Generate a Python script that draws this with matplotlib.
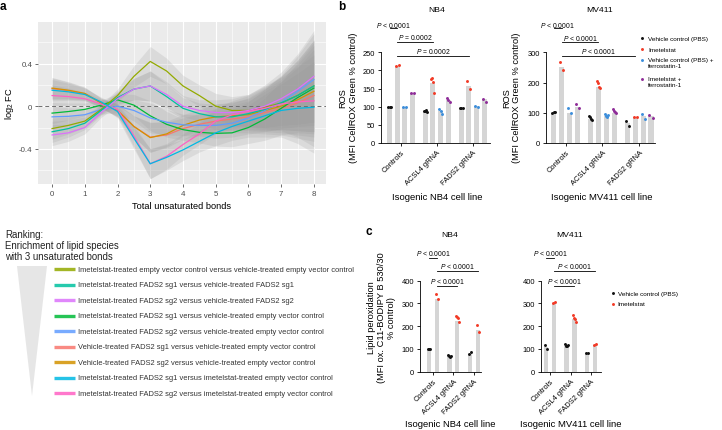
import numpy as np
import matplotlib
matplotlib.use('Agg')
import matplotlib.pyplot as plt
from matplotlib.patches import Polygon

plt.rcParams['font.family'] = ['Liberation Sans', 'DejaVu Sans']
plt.rcParams['mathtext.fontset'] = 'custom'
plt.rcParams['mathtext.it'] = 'Liberation Sans:italic'
plt.rcParams['mathtext.rm'] = 'Liberation Sans'

# ---------------- Panel a data ----------------
bonds = [0, 0.5, 1, 1.5, 2, 2.5, 3, 3.5, 4, 4.5, 5, 5.5, 6, 6.5, 7, 7.5, 8]
imet_ev_vs_veh_ev = [-0.21, -0.18, -0.14, -0.03, 0.10, 0.28, 0.42, 0.33, 0.19, 0.10, 0.0, -0.04, -0.04, -0.01, 0.03, 0.10, 0.19]
imet_sg1_vs_veh_sg1 = [-0.24, -0.21, -0.16, -0.04, 0.08, 0.16, 0.19, 0.09, -0.02, -0.07, -0.10, -0.10, -0.07, -0.03, 0.03, 0.10, 0.19]
imet_sg2_vs_veh_sg2 = [-0.27, -0.25, -0.20, -0.06, 0.07, 0.16, 0.19, 0.11, 0.0, -0.04, -0.06, -0.06, -0.04, 0.0, 0.07, 0.16, 0.28]
imet_sg1_vs_veh_ev = [-0.065, -0.05, -0.03, 0.01, 0.06, 0.01, -0.09, -0.17, -0.22, -0.245, -0.255, -0.25, -0.20, -0.12, -0.02, 0.08, 0.17]
imet_sg2_vs_veh_ev = [-0.10, -0.095, -0.08, -0.03, 0.0, -0.04, -0.11, -0.15, -0.175, -0.18, -0.18, -0.16, -0.11, -0.04, 0.04, 0.14, 0.25]
veh_sg1_vs_veh_ev = [0.165, 0.145, 0.115, 0.03, -0.04, -0.19, -0.29, -0.27, -0.21, -0.17, -0.14, -0.12, -0.10, -0.06, -0.02, 0.03, 0.10]
veh_sg2_vs_veh_ev = [0.17, 0.15, 0.12, 0.03, -0.04, -0.19, -0.295, -0.26, -0.18, -0.13, -0.10, -0.09, -0.08, -0.04, 0.0, 0.06, 0.14]
imet_sg1_vs_imet_ev = [0.15, 0.135, 0.11, 0.04, -0.05, -0.30, -0.54, -0.48, -0.41, -0.33, -0.25, -0.19, -0.14, -0.09, -0.04, -0.02, -0.01]
imet_sg2_vs_imet_ev = [0.10, 0.09, 0.07, 0.02, -0.03, -0.28, -0.54, -0.47, -0.36, -0.26, -0.14, -0.08, -0.05, -0.02, 0.02, 0.04, 0.05]
ci_halfwidth = [0.10, 0.08, 0.06, 0.045, 0.06, 0.10, 0.14, 0.12, 0.10, 0.10, 0.12, 0.13, 0.15, 0.20, 0.25, 0.33, 0.43]

comparison_labels = [
    'Imetelstat-treated empty vector control versus vehicle-treated empty vector control',
    'Imetelstat-treated FADS2 sg1 versus vehicle-treated FADS2 sg1',
    'Imetelstat-treated FADS2 sg2 versus vehicle-treated FADS2 sg2',
    'Imetelstat-treated FADS2 sg1 versus vehicle-treated empty vector control',
    'Imetelstat-treated FADS2 sg2 versus vehicle-treated empty vector control',
    'Vehicle-treated FADS2 sg1 versus vehicle-treated empty vector control',
    'Vehicle-treated FADS2 sg2 versus vehicle-treated empty vector control',
    'Imetelstat-treated FADS2 sg1 versus imetelstat-treated empty vector control',
    'Imetelstat-treated FADS2 sg2 versus imetelstat-treated empty vector control',
]
comparison_colors = ['#93AA00', '#00C19F', '#DB72FB', '#00BA38', '#619CFF',
                     '#F8766D', '#D39200', '#00B9E3', '#FF61C3']
comparison_series = [imet_ev_vs_veh_ev, imet_sg1_vs_veh_sg1, imet_sg2_vs_veh_sg2,
                     imet_sg1_vs_veh_ev, imet_sg2_vs_veh_ev, veh_sg1_vs_veh_ev,
                     veh_sg2_vs_veh_ev, imet_sg1_vs_imet_ev, imet_sg2_vs_imet_ev]
draw_order = [5, 6, 3, 4, 0, 1, 2, 8, 7]

# ---------------- Panel b data ----------------
groups = ['Controls', 'ACSL4 gRNA', 'FADS2 gRNA']
ros_treatments = ['Vehicle control (PBS)', 'Imetelstat',
                  'Vehicle control (PBS) +\nferrostatin-1', 'Imetelstat +\nferrostatin-1']
ros_colors = ['#111111', '#F23A26', '#3C8EDB', '#8E2C98']

nb4_ros_bars = [[100, 213, 100, 137], [88, 165, 88, 118], [97, 157, 102, 120]]
nb4_ros_dots = [
    [[100, 100, 100], [213, 216], [100, 100], [137, 137]],
    [[89, 87, 91, 86], [176, 178, 169, 138], [94, 89, 80], [124, 119, 112]],
    [[97, 97, 97], [170, 150], [103, 100], [121, 112]],
]
mv411_ros_bars = [[100, 250, 100, 118], [80, 185, 90, 100], [66, 85, 88, 88]]
mv411_ros_dots = [
    [[100, 102, 104], [267, 241], [116, 99], [129, 116]],
    [[90, 85, 80, 77], [206, 200, 186, 181], [96, 90, 85, 93], [112, 107, 101, 99]],
    [[74, 57], [85, 85], [96, 79], [93, 82]],
]

# ---------------- Panel c data ----------------
lipid_treatments = ['Vehicle control (PBS)', 'Imetelstat']
lipid_colors = ['#111111', '#F23A26']
nb4_lipid_bars = [[100, 320], [68, 225], [78, 185]]
nb4_lipid_dots = [
    [[100, 100, 100], [342, 320]],
    [[73, 68, 66, 70], [244, 240, 235, 217]],
    [[76, 88], [207, 173]],
]
mv411_lipid_bars = [[108, 300], [115, 232], [82, 118]]
mv411_lipid_dots = [
    [[117, 100], [300, 308]],
    [[122, 114, 111, 118], [249, 234, 231, 217]],
    [[82, 82], [117, 122]],
]

W, H = 722, 431
fig = plt.figure(figsize=(W / 100, H / 100), dpi=100)


def px_axes(x0, y0, x1, y1):
    return fig.add_axes([x0 / W, 1 - y1 / H, (x1 - x0) / W, (y1 - y0) / H])


# ================= Panel a =================
axa = px_axes(38, 23, 326, 185)
axa.set_facecolor('#EBEBEB')
axa.set_xlim(-0.43, 8.37)
axa.set_ylim(-0.73, 0.79)
for k in range(17):
    axa.axvline(k * 0.5, color='white', lw=0.8 if k % 2 == 0 else 0.4, zorder=0)
for k in range(-3, 4):
    axa.axhline(k * 0.2, color='white', lw=0.8 if k % 2 == 0 else 0.4, zorder=0)
bx = np.array(bonds)
hw = np.array(ci_halfwidth)
for s in comparison_series:
    y = np.array(s)
    axa.fill_between(bx, y - hw, y + hw, color='#999999', alpha=0.2, lw=0, zorder=1)
axa.axhline(0, color='#6E6E6E', lw=0.7, ls=(0, (4, 3)), zorder=2)
for i in draw_order:
    axa.plot(bx, comparison_series[i], color=comparison_colors[i], lw=0.9, zorder=3)
axa.set_xticks(range(0, 9))
axa.set_yticks([-0.4, 0, 0.4])
axa.set_yticklabels(['-0.4', '0', '0.4'])
axa.tick_params(length=2, width=0.5, color='#333333', labelsize=5.7, labelcolor='#4D4D4D', pad=2)
for sp in axa.spines.values():
    sp.set_visible(False)
axa.set_xlabel('Total unsaturated bonds', fontsize=6.7, labelpad=3)
axa.set_ylabel('log$_2$ FC', fontsize=6.7, labelpad=2)


# ================= bar panels =================
def bar_panel(rect, bars, dots, colors, offsets, width, xlim, ylim, yticks):
    ax = px_axes(*rect)
    for g in range(len(bars)):
        for t in range(len(bars[g])):
            x = g + offsets[t]
            ax.bar(x, bars[g][t], width, color='#D5D5D5', zorder=1)
            vals = dots[g][t]
            n = len(vals)
            dx = np.linspace(-width * 0.3, width * 0.3, n) if n > 1 else np.zeros(1)
            ax.scatter(x + dx, vals, s=4.5, color=colors[t], zorder=3, lw=0, clip_on=False)
    ax.set_xlim(*xlim)
    ax.set_ylim(*ylim)
    ax.set_yticks(yticks)
    ax.set_xticks(range(len(bars)))
    ax.set_xticklabels(groups, rotation=45, ha='right', rotation_mode='anchor')
    ax.tick_params(length=2, width=0.6, labelsize=5.4, pad=2.2)
    for sp in ['top', 'right']:
        ax.spines[sp].set_visible(False)
    for sp in ['left', 'bottom']:
        ax.spines[sp].set_linewidth(0.6)
    return ax


def bracket(ax, x0, x1, y, ty, text):
    ax.plot([x0, x1], [y, y], color='black', lw=0.6, clip_on=False)
    ax.text((x0 + x1) / 2, ty, text, ha='center', va='center', fontsize=4.9)


ros_off = [-0.32, -0.11, 0.11, 0.32]
ax_b1 = bar_panel((380.7, 53.3, 490, 144), nb4_ros_bars, nb4_ros_dots, ros_colors,
                  ros_off, 0.14, (-0.566, 2.48), (0, 250), [0, 50, 100, 150, 200, 250])
ax_b2 = bar_panel((546, 53.3, 655, 144), mv411_ros_bars, mv411_ros_dots, ros_colors,
                  ros_off, 0.14, (-0.535, 2.43), (0, 300), [0, 100, 200, 300])
bracket(ax_b1, -0.32, -0.11, 317, 328, r'$\it{P}$ < 0.0001')
bracket(ax_b1, -0.11, 0.89, 279, 293, r'$\it{P}$ = 0.0002')
bracket(ax_b1, -0.11, 1.89, 240, 256, r'$\it{P}$ = 0.0002')
bracket(ax_b2, -0.32, -0.11, 380, 393, r'$\it{P}$ < 0.0001')
bracket(ax_b2, -0.11, 0.89, 335, 350, r'$\it{P}$ < 0.0001')
bracket(ax_b2, -0.11, 1.89, 289, 306, r'$\it{P}$ < 0.0001')

lip_off = [-0.19, 0.19]
ax_c1 = bar_panel((420, 281.7, 480.7, 372.7), nb4_lipid_bars, nb4_lipid_dots, lipid_colors,
                  lip_off, 0.21, (-0.63, 2.33), (0, 400), [0, 100, 200, 300, 400])
ax_c2 = bar_panel((541, 281.7, 600.7, 372.7), mv411_lipid_bars, mv411_lipid_dots, lipid_colors,
                  lip_off, 0.21, (-0.44, 2.47), (0, 400), [0, 100, 200, 300, 400])
bracket(ax_c1, -0.19, 0.19, 498, 525, r'$\it{P}$ < 0.0001')
bracket(ax_c1, 0.19, 2.19, 444, 466, r'$\it{P}$ < 0.0001')
bracket(ax_c1, 0.19, 1.19, 378, 400, r'$\it{P}$ < 0.0001')
bracket(ax_c2, -0.19, 0.19, 498, 525, r'$\it{P}$ < 0.0001')
bracket(ax_c2, 0.19, 2.19, 444, 466, r'$\it{P}$ < 0.0001')
bracket(ax_c2, 0.19, 1.19, 378, 400, r'$\it{P}$ < 0.0001')

# ================= overlay (text, legends) =================
ov = fig.add_axes([0, 0, 1, 1])
ov.set_xlim(0, W)
ov.set_ylim(H, 0)
ov.axis('off')

for lab, x, y in [('a', 3, 7), ('b', 342, 7), ('c', 369, 232)]:
    ov.text(x, y, lab, fontsize=8.5, fontweight='bold', ha='center', va='center')

for t, x, y in [('NB4', 437, 10), ('MV411', 600, 10), ('NB4', 450, 236), ('MV411', 570, 236)]:
    ov.text(x, y, t, fontsize=6.1, ha='center', va='center')

ylab_ros = 'ROS\n(MFI CellROX Green % control)'
ov.text(348, 98, ylab_ros, rotation=90, fontsize=6.7, ha='center', va='center', linespacing=1.15)
ov.text(511.5, 98, ylab_ros, rotation=90, fontsize=6.7, ha='center', va='center', linespacing=1.15)
ov.text(381.7, 318, 'Lipid peroxidation\n(MFI ox. C11-BODIPY B 530/30\n% control)', rotation=90,
        fontsize=6.7, ha='center', va='center', linespacing=1.15)

for t, x, y in [('Isogenic NB4 cell line', 437, 198), ('Isogenic MV411 cell line', 602, 198),
                ('Isogenic NB4 cell line', 450, 425), ('Isogenic MV411 cell line', 571, 425)]:
    ov.text(x, y, t, fontsize=6.8, ha='center', va='center')

# legend b
for lab, col, y in zip(ros_treatments, ros_colors, [39, 50, 61, 80]):
    ov.scatter([642], [y], s=4.5, color=col, lw=0)
    if '\n' in lab:
        ov.text(648, y - 3, lab, fontsize=4.6, ha='left', va='top', linespacing=1.3)
    else:
        ov.text(648, y, lab, fontsize=4.6, ha='left', va='center')
# legend c
for lab, col, y in zip(lipid_treatments, lipid_colors, [294.3, 305]):
    ov.scatter([612.7], [y], s=4.5, color=col, lw=0)
    ov.text(617.5, y, lab, fontsize=4.6, ha='left', va='center')

# legend a
ov.text(5, 246, 'Ranking:\nEnrichment of lipid species\nwith 3 unsaturated bonds', fontsize=6.9,
        ha='left', va='center', linespacing=1.15, color='#222222')
ov.add_patch(Polygon([(17, 267), (47, 267), (32, 397)], closed=True, color='#E6E6E6', lw=0))
for i, (lab, col) in enumerate(zip(comparison_labels, comparison_colors)):
    y = 270.3 + i * 15.5
    ov.plot([54, 75], [y, y], color=col, lw=2.4, solid_capstyle='butt', alpha=0.85)
    ov.text(78, y, lab, fontsize=5.4, ha='left', va='center', color='#333333')

fig.savefig('out.png', dpi=100)
